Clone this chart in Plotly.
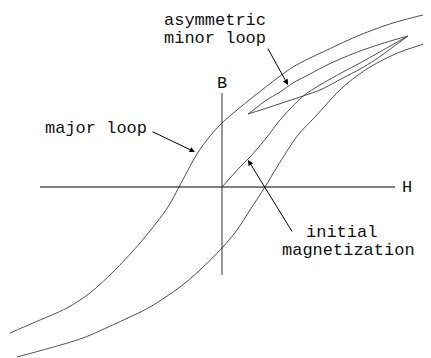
import plotly.graph_objects as go

# hysteresis sketch, H horizontal / B vertical (arbitrary units)
major_desc_h = [-212, -189, -155, -132, -105, -82, -65, -54, -43, -25, -12, 0, 15, 31, 71, 105, 138, 171, 209]
major_desc_b = [-146, -136, -121, -106, -81, -56, -35, -20, 0, 33, 51, 64, 77, 90, 120, 137, 152, 164, 174]

major_asc_h = [-205, -172, -139, -105, -72, -42, -22, 0, 15, 28, 43, 55, 76, 93, 121, 148, 178, 209]
major_asc_b = [-170, -161, -151, -136, -120, -100, -83, -61, -43, -23, 0, 20, 52, 70, 100, 120, 135, 145]

initial_h = [0, 18, 28, 45, 58, 80, 93, 121, 138, 163, 186]
initial_b = [0, 20, 30, 50, 67, 90, 99, 115, 124, 138, 151]

minor_upper_h = [26, 34, 43, 58, 71, 88, 105, 123, 138, 165, 186]
minor_upper_b = [73, 79, 86, 95, 104, 113, 122, 130, 136, 145, 151]

minor_lower_h = [26, 48, 66, 81, 98, 121, 138, 153, 171, 186]
minor_lower_b = [73, 80, 86, 91, 97, 109, 118, 127, 140, 151]

h_axis_h = [-182, 173]
h_axis_b = [0, 0]
b_axis_h = [0, 0]
b_axis_b = [94, -88]

curve_color = "#505050"
font = dict(family="Courier New, Liberation Mono, monospace", size=17, color="#111111")

fig = go.Figure()
for xs, ys in [(major_desc_h, major_desc_b), (major_asc_h, major_asc_b),
               (initial_h, initial_b), (minor_upper_h, minor_upper_b),
               (minor_lower_h, minor_lower_b)]:
    fig.add_trace(go.Scatter(x=xs, y=ys, mode="lines", hoverinfo="skip",
                             line=dict(color=curve_color, width=1, shape="spline", smoothing=0.8)))
fig.add_trace(go.Scatter(x=h_axis_h, y=h_axis_b, mode="lines", line=dict(color="#000000", width=1)))
fig.add_trace(go.Scatter(x=b_axis_h, y=b_axis_b, mode="lines", line=dict(color="#333333", width=1)))

labels = [
    ("B", 0, 104),
    ("H", 185, 0),
    ("asymmetric", -7, 167),
    ("minor loop", -7, 149),
    ("major loop", -126, 59),
    ("initial", 119, -45),
    ("magnetization", 126, -63),
]
for text, x, y in labels:
    fig.add_annotation(x=x, y=y, text=text, showarrow=False, font=font, borderpad=0,
                       xanchor="center", yanchor="middle")

# arrows: (tail h, tail b, head h, head b)
arrows = [
    (-71, 56, -27, 35),
    (45, 140, 66, 102),
    (71, -46, 26, 27),
]
for ax, ay, x, y in arrows:
    fig.add_annotation(x=x, y=y, ax=ax, ay=ay, axref="x", ayref="y", text="",
                       showarrow=True, arrowhead=2, arrowsize=1.1, arrowwidth=1,
                       arrowcolor="#000000")

# page body has an 8px margin, so the figure is trimmed to fit the window
fig.update_xaxes(visible=False, range=[-214, 209])
fig.update_yaxes(visible=False, range=[-171, 179])
fig.update_layout(width=423, height=350, margin=dict(l=0, r=0, t=0, b=0),
                  showlegend=False, plot_bgcolor="white", paper_bgcolor="white")
fig.write_html("out.html")
